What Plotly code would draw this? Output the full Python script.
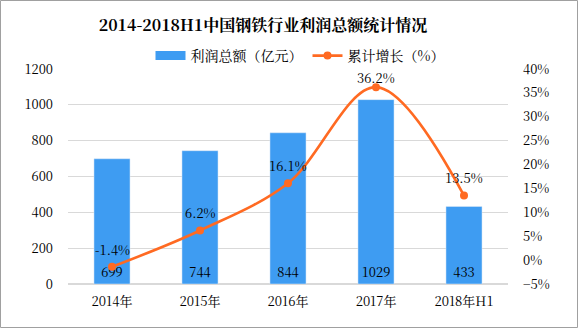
import plotly.graph_objects as go

categories = ["2014年", "2015年", "2016年", "2017年", "2018年H1"]
profit = [699, 744, 844, 1029, 433]
growth = [-1.4, 6.2, 16.1, 36.2, 13.5]
growth_labels = ["-1.4%", "6.2%", "16.1%", "36.2%", "13.5%"]
label_shift = [17, 18, 18, 10, 18]

FONT = "SimSun, 'Noto Serif CJK SC', 'Noto Sans CJK SC', serif"
BLUE = "#3E9CF2"
ORANGE = "#FF6A22"

fig = go.Figure()
fig.add_trace(go.Bar(
    x=categories, y=profit, name="利润总额（亿元）", showlegend=False,
    marker_color=BLUE, width=0.41,
    text=[str(v) for v in profit], textposition="inside",
    insidetextanchor="start", textangle=0,
    textfont=dict(color="#000000", size=13, family=FONT),
    yaxis="y",
))
# legend-only swatch (wide rectangle like the reference)
fig.add_trace(go.Scatter(
    x=[None], y=[None], mode="lines", name="利润总额（亿元）",
    line=dict(color=BLUE, width=9), yaxis="y",
))
fig.add_trace(go.Scatter(
    x=categories, y=growth, name="累计增长（%）",
    mode="lines+markers", line=dict(color=ORANGE, width=2.6, shape="spline", smoothing=1.0),
    marker=dict(size=8, color=ORANGE),
    yaxis="y2",
))

annotations = []
for c, g, t, s in zip(categories, growth, growth_labels, label_shift):
    annotations.append(dict(x=c, y=g, xref="x", yref="y2", text=t, showarrow=False,
                            yshift=s, font=dict(size=13, family=FONT, color="#000000")))

L, R, T, B = 68, 70, 69, 44
W, H = 578, 328
pw, ph = W - L - R, H - T - B

fig.update_layout(
    width=W, height=H,
    margin=dict(l=L, r=R, t=T, b=B),
    paper_bgcolor="white", plot_bgcolor="white",
    font=dict(family=FONT, size=13, color="#000000"),
    title=dict(text="<b>2014-2018H1中国钢铁行业利润总额统计情况</b>",
               xref="container", x=263 / W, xanchor="center", y=1 - 25 / H, yanchor="middle",
               font=dict(size=16, family=FONT, color="#000000")),
    legend=dict(orientation="h", x=(300 - L) / pw, xanchor="center", y=(H - B - 56) / ph,
                yanchor="middle", font=dict(size=14, family=FONT),
                bgcolor="rgba(0,0,0,0)"),
    annotations=annotations,
    xaxis=dict(showgrid=False, showline=False, ticks="", tickfont=dict(size=13), ticklabelstandoff=8),
    yaxis=dict(range=[0, 1200], dtick=200, showgrid=True, gridcolor="#D9D9D9",
               gridwidth=1, zeroline=True, zerolinecolor="#D9D9D9", showline=False,
               tickfont=dict(size=13), ticklabelstandoff=14),
    yaxis2=dict(range=[-5, 40], dtick=5, overlaying="y", side="right", showgrid=False,
                zeroline=False, ticksuffix="%", tickfont=dict(size=13), ticklabelstandoff=14),
    shapes=[dict(type="rect", xref="paper", yref="paper",
                 x0=(0.5 - L) / pw, x1=(W - 0.5 - L) / pw,
                 y0=(H - B - (H - 0.5)) / ph, y1=(H - B - 0.5) / ph,
                 line=dict(color="#A0A0A0", width=1), layer="below")],
)

fig.write_html("out.html")
